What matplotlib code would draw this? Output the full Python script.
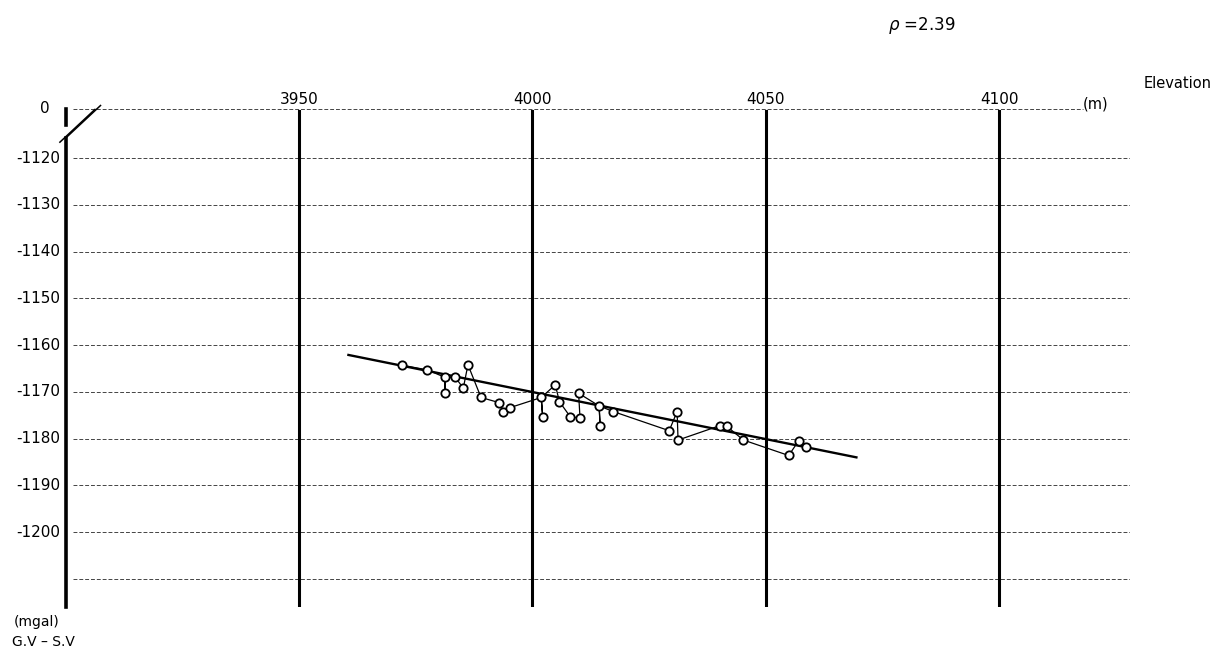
import matplotlib
matplotlib.use("Agg")
import matplotlib.pyplot as plt

# Gravity value minus standard value vs elevation (rho = 2.39)
elev = [3972.1, 3977.5, 3981.3, 3981.3, 3983.5, 3985.2, 3986.2, 3989.0, 3992.9,
        3993.8, 3995.1, 4001.9, 4002.2, 4004.9, 4005.8, 4008.1, 4009.9, 4010.2,
        4014.3, 4014.5, 4017.3, 4029.3, 4031.0, 4031.2, 4040.2, 4041.7, 4045.2,
        4054.9, 4057.0, 4058.6]
gv_sv = [-1164.3, -1165.3, -1166.9, -1170.3, -1166.9, -1169.2, -1164.2, -1171.2,
         -1172.3, -1174.2, -1173.4, -1171.2, -1175.3, -1168.5, -1172.1, -1175.3,
         -1170.3, -1175.6, -1173.0, -1177.3, -1174.2, -1178.3, -1174.2, -1180.3,
         -1177.2, -1177.4, -1180.3, -1183.6, -1180.5, -1181.7]
# order in which the stations are joined by the thin line (1-based)
path = [1, 2, 3, 4, 3, 5, 6, 7, 8, 9, 10, 11, 12, 13, 12, 14, 15, 16, 18, 17,
        19, 20, 19, 21, 22, 23, 24, 25, 26, 27, 28, 29, 30]

# fitted line end points
fit_x = [3960.6, 4069.4]
fit_y = [-1162.1, -1184.0]

y_ticks = [-1120, -1130, -1140, -1150, -1160, -1170, -1180, -1190, -1200]
y_grid = [-1120, -1130, -1140, -1150, -1160, -1170, -1180, -1190, -1200, -1210]
x_ticks = [3950, 4000, 4050, 4100]
zero_pos = -1109.4   # where the broken "0" line sits

fig = plt.figure(figsize=(12.16, 6.65), dpi=100)
ax = fig.add_axes([65.5 / 1216, 1 - 607 / 665, (1130 - 65.5) / 1216, (607 - 108.5) / 665])
ax.set_xlim(3900, 4128)
ax.set_ylim(-1216.0, zero_pos)
ax.axis("off")

# horizontal dashed grid
for g in y_grid:
    ax.plot([3901.5, 4128], [g, g], color="#444444", lw=0.7,
            dashes=(4, 2), solid_capstyle="butt")
# zero line (stops at the unit label)
ax.plot([3901.5, 4118], [zero_pos, zero_pos], color="#444444", lw=0.7, dashes=(4, 2))

# thick vertical lines
for xt in x_ticks:
    ax.plot([xt, xt], [-1216.0, zero_pos - 0.6], color="black", lw=2.2)
    ax.text(xt, zero_pos + 0.3, str(xt), ha="center", va="bottom", fontsize=11)

# left axis with break
ax.plot([3900, 3900], [-1216.0, -1115.7], color="black", lw=2.6, clip_on=False)
ax.plot([3900, 3900], [-1112.9, zero_pos], color="black", lw=2.6, clip_on=False)
for dx in (0.0, 1.2):
    ax.plot([3898.8 + dx, 3906.3 + dx], [-1116.6 + dx * 0.7, -1109.6 + dx * 0.7],
            color="black", lw=1.1, clip_on=False)

for t in y_ticks:
    ax.text(3898.8, t, str(t), ha="right", va="center", fontsize=11)
ax.text(3896.5, zero_pos, "0", ha="right", va="center", fontsize=11)

# data
ax.plot(fit_x, fit_y, color="black", lw=1.7, zorder=3)
px = [elev[i - 1] for i in path]
py = [gv_sv[i - 1] for i in path]
ax.plot(px, py, color="black", lw=0.9, zorder=3)
ax.plot(elev, gv_sv, linestyle="none", marker="o", markersize=6,
        markerfacecolor="white", markeredgecolor="black", markeredgewidth=1.3, zorder=4)

# annotations
fig.text(1212 / 1216, 1 - 84 / 665, "Elevation", ha="right", va="center", fontsize=10.5)
fig.text(1083 / 1216, 1 - 104 / 665, "(m)", ha="left", va="center", fontsize=10.5)
fig.text(888 / 1216, 1 - 26 / 665, "$\\rho$ =2.39", ha="left", va="center", fontsize=12)
fig.text(14 / 1216, 1 - 622 / 665, "(mgal)", ha="left", va="center", fontsize=10)
fig.text(12 / 1216, 1 - 642 / 665, "G.V – S.V", ha="left", va="center", fontsize=10)

fig.savefig("out.png", dpi=100)
